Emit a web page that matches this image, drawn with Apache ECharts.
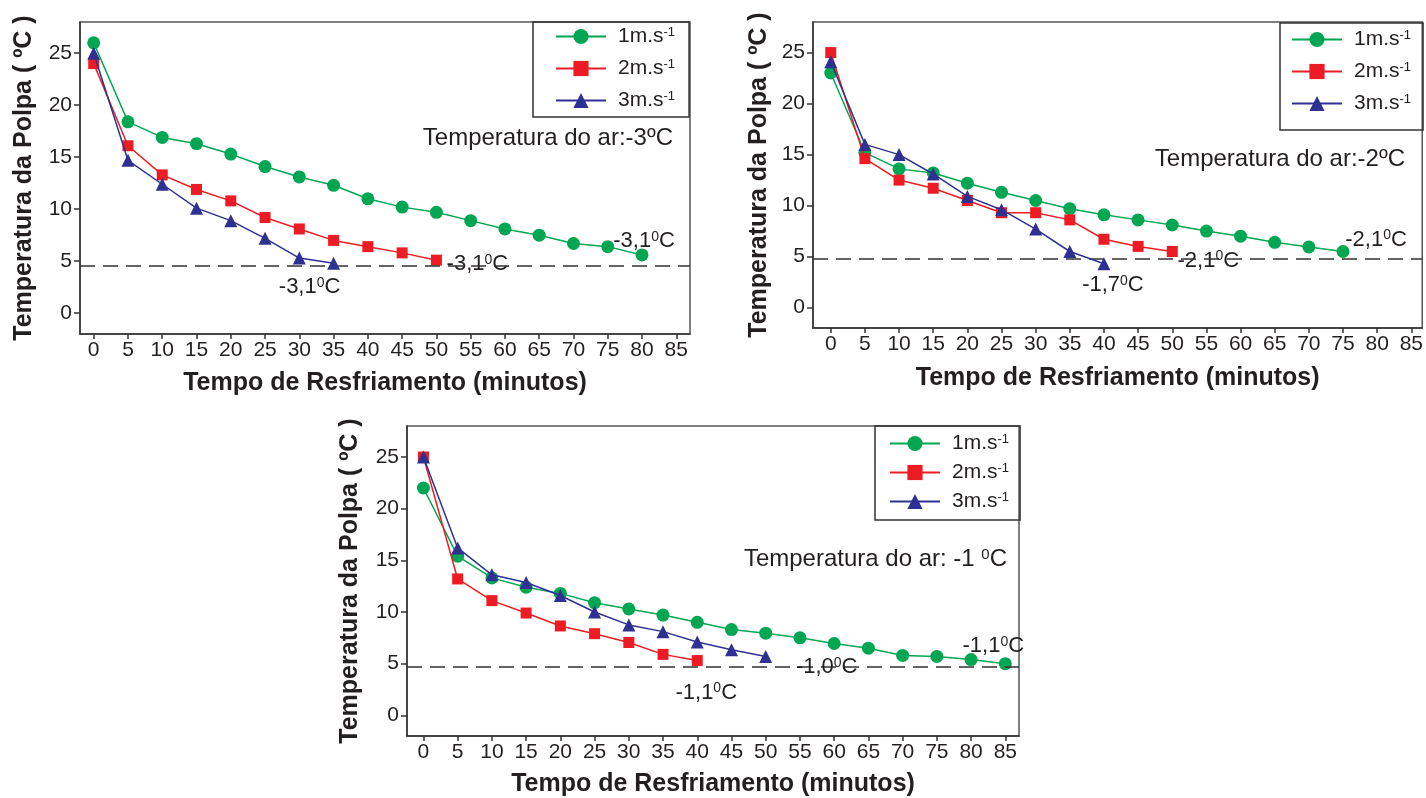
<!DOCTYPE html>
<html><head><meta charset="utf-8">
<script src="https://cdn.jsdelivr.net/npm/echarts@6/dist/echarts.min.js"></script>
<style>html,body{margin:0;padding:0;background:#fff}#c{width:1426px;height:798px}</style>
</head><body><div id="c"></div>
<script>
// ---------- data ----------
const times = [0,5,10,15,20,25,30,35,40,45,50,55,60,65,70,75,80,85];
const xTicks = [0,5,10,15,20,25,30,35,40,45,50,55,60,65,70,75,80,85];
const yTicks = [0,5,10,15,20,25];
const seriesNames = ['1m.s-1','2m.s-1','3m.s-1'];
// Panel A (air -3 ºC)
const a1 = [26,18.4,16.9,16.3,15.3,14.1,13.1,12.3,11.0,10.2,9.7,8.9,8.1,7.5,6.7,6.4,5.6];
const a2 = [24,16.1,13.3,11.9,10.8,9.2,8.1,7.0,6.4,5.8,5.1];
const a3 = [25,14.7,12.4,10.1,8.9,7.2,5.3,4.8];
// Panel B (air -2 ºC)
const b1 = [23,15.2,13.6,13.2,12.2,11.3,10.5,9.7,9.1,8.6,8.1,7.5,7.0,6.4,5.95,5.5];
const b2 = [25,14.6,12.5,11.7,10.5,9.3,9.3,8.6,6.7,6.0,5.5];
const b3 = [24.1,16.0,15.0,13.1,10.9,9.6,7.7,5.5,4.3];
// Panel C (air -1 ºC)
const c1 = [22,15.4,13.3,12.4,11.8,10.9,10.3,9.7,9.0,8.3,7.95,7.5,6.95,6.5,5.8,5.7,5.4,5.0];
const c2 = [25,13.2,11.1,9.9,8.65,7.9,7.05,5.9,5.3];
const c3 = [25,16.2,13.6,12.85,11.6,10.0,8.75,8.1,7.1,6.35,5.7];
const airLines = [4.6, 4.8, 4.75];
const airTitles = ['{t|Temperatura do ar:-3ºC}', '{t|Temperatura do ar:-2ºC}', '{t|Temperatura do ar: -1 }{s|0}{t|C}'];
const endLabels = [['-3,1','-3,1','-3,1'],['-2,1','-2,1','-1,7'],['-1,1','-1,1','-1,0']];
const xTitle = 'Tempo de Resfriamento (minutos)';
const yTitle = 'Temperatura da Polpa ( ºC )';

// ---------- style ----------
const FONT = "'Liberation Sans', Arial, Helvetica, sans-serif";
const TXT = '#231f20';
const colors = ['#00a651', '#ed1c24', '#2e3192'];
const symbols = ['circle', 'rect', 'triangle'];
const symSizes = [13, 11, 13];
const grids = [
  {left: 80, top: 22, width: 610, height: 312},
  {left: 813, top: 22, width: 610, height: 306},
  {left: 407, top: 426, width: 612, height: 311}
];
const xRanges = [[-2, 87], [-2.6, 86.6], [-2.4, 87]];
const yRange = [-2, 28];
const yNameGaps = [43, 41, 44];
const xNameGaps = [37, 38, 36];
const labelOffsets = [
  [[2,-14],[41,4],[-24,24]],
  [[33,-12],[36,9],[9,21]],
  [[-12,-18],[9,32],[61,11]]
];
const legendPos = [
  {left: 533, top: 22, padding: [4, 14, 6, 22], itemGap: 11},
  {left: 1280, top: 23, padding: [6, 12, 16, 11], itemGap: 11},
  {left: 875, top: 426, padding: [7, 11, 8, 14], itemGap: 8}
];
const titlePos = [[673, 138], [1405, 159], [1007, 559]];

const panels = [[a1, a2, a3], [b1, b2, b3], [c1, c2, c3]];
const richLabel = {
  n: {fontSize: 22, color: TXT, fontFamily: FONT},
  s: {fontSize: 14, color: TXT, fontFamily: FONT, verticalAlign: 'top'}
};

const axisLineStyle = {color: '#333', width: 1.5};
const xAxis = [], yAxis = [], series = [], legend = [], graphic = [];
panels.forEach((panel, g) => {
  xAxis.push({
    gridIndex: g, type: 'value', min: xRanges[g][0], max: xRanges[g][1],
    axisLine: {show: true, onZero: false, lineStyle: axisLineStyle},
    axisTick: {show: true, length: 5, customValues: xTicks, lineStyle: axisLineStyle},
    axisLabel: {customValues: xTicks, fontSize: 21, color: TXT, margin: 6, fontFamily: FONT},
    splitLine: {show: false},
    name: xTitle, nameLocation: 'middle', nameGap: xNameGaps[g],
    nameTextStyle: {fontSize: 25, fontWeight: 'bold', color: TXT, fontFamily: FONT}
  });
  yAxis.push({
    gridIndex: g, type: 'value', min: yRange[0], max: yRange[1],
    axisLine: {show: true, onZero: false, lineStyle: axisLineStyle},
    axisTick: {show: true, length: 6, customValues: yTicks, lineStyle: axisLineStyle},
    axisLabel: {customValues: yTicks, fontSize: 21, color: TXT, margin: 8, fontFamily: FONT},
    splitLine: {show: false},
    name: yTitle, nameLocation: 'middle', nameGap: yNameGaps[g],
    nameTextStyle: {fontSize: 25, fontWeight: 'bold', color: TXT, fontFamily: FONT}
  });
  panel.forEach((vals, s) => {
    const data = vals.map((v, i) => {
      if (i < vals.length - 1) return [times[i], v];
      return {
        value: [times[i], v],
        label: {
          show: true, position: 'inside', offset: labelOffsets[g][s],
          formatter: '{n|' + endLabels[g][s] + '}{s|0}{n|C}', rich: richLabel
        }
      };
    });
    const ser = {
      name: seriesNames[s], type: 'line', xAxisIndex: g, yAxisIndex: g,
      data: data, symbol: symbols[s], symbolSize: symSizes[s],
      itemStyle: {color: colors[s]}, lineStyle: {color: colors[s], width: 1.5},
      z: 3 + s, animation: false
    };
    if (s === 0) {
      ser.markLine = {
        silent: true, symbol: 'none', label: {show: false},
        lineStyle: {type: [15, 8], color: '#333', width: 1.5},
        data: [{yAxis: airLines[g]}], animation: false
      };
    }
    series.push(ser);
  });
  legend.push(Object.assign({
    orient: 'vertical', data: seriesNames.slice(),
    itemWidth: 50, itemHeight: 19,
    borderColor: '#333', borderWidth: 1.5, borderRadius: 0,
    selectedMode: false,
    formatter: name => '{a|' + name.replace('-1', '') + '}{b|-1}',
    textStyle: {
      padding: [0, 0, 0, 7], color: TXT, fontFamily: FONT,
      rich: {a: {fontSize: 21, color: TXT, fontFamily: FONT}, b: {fontSize: 13, color: TXT, fontFamily: FONT, verticalAlign: 'top'}}
    }
  }, legendPos[g]));
  graphic.push({
    type: 'text', x: titlePos[g][0], y: titlePos[g][1],
    style: {
      text: airTitles[g], align: 'right', verticalAlign: 'middle',
      rich: {t: {fontSize: 24, fill: TXT, fontFamily: FONT}, s: {fontSize: 15, fill: TXT, fontFamily: FONT, verticalAlign: 'top'}}
    }
  });
});

const chart = echarts.init(document.getElementById('c'), null, {renderer: 'canvas'});
chart.setOption({
  animation: false,
  textStyle: {fontFamily: FONT},
  grid: grids.map(g => Object.assign({show: true, borderColor: '#555', borderWidth: 1.5, backgroundColor: 'transparent', containLabel: false}, g)),
  xAxis, yAxis, series, legend, graphic
});
</script></body></html>
